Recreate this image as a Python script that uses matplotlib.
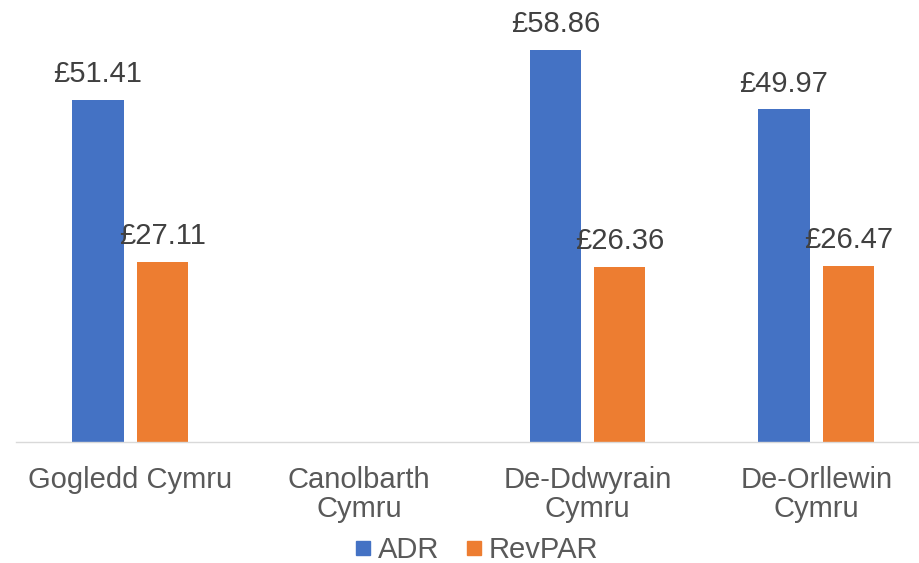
import matplotlib
matplotlib.use("Agg")
import matplotlib.pyplot as plt
from matplotlib.lines import Line2D
import numpy as np

categories = ["Gogledd Cymru", "Canolbarth\nCymru", "De-Ddwyrain\nCymru", "De-Orllewin\nCymru"]
adr = [51.41, None, 58.86, 49.97]
revpar = [27.11, None, 26.36, 26.47]
series_names = ["ADR", "RevPAR"]
colors = ["#4472C4", "#ED7D31"]

plt.rcParams['font.family'] = ['Liberation Sans', 'DejaVu Sans']

W, H = 920, 563
fig = plt.figure(figsize=(W / 100, H / 100), dpi=100)
ax = fig.add_axes([15.85 / W, (H - 442.3) / H, 914.8 / W, 442.3 / H])

bw = 0.224
off = 0.141
x = np.arange(len(categories))
for vals, sign, col in [(adr, -1, colors[0]), (revpar, 1, colors[1])]:
    for xi, v in zip(x, vals):
        if v is None:
            continue
        ax.bar(xi + sign * off, v, width=bw, color=col, zorder=2)
        ax.annotate(f"£{v:.2f}", (xi + sign * off, v), xytext=(0, 8.5),
                    textcoords="offset points", ha="center", va="bottom",
                    fontsize=21, color="#404040")

ax.set_xlim(-0.5, len(categories) - 0.5)
ax.set_ylim(0, 442.3 / 6.66)
ax.set_xticks(x)
ax.set_xticklabels(categories, fontsize=21, color="#595959", linespacing=1.04)
ax.tick_params(axis="x", length=0, pad=17)
ax.set_yticks([])
for s in ["top", "left", "right"]:
    ax.spines[s].set_visible(False)
ax.spines["bottom"].set_color("#D9D9D9")
ax.spines["bottom"].set_linewidth(1.0)
ax.spines["bottom"].set_zorder(3)

handles = [Line2D([], [], marker="s", linestyle="none", markersize=10.5,
                  markerfacecolor=c, markeredgecolor=c) for c in colors]
fig.legend(handles, series_names, loc="center", bbox_to_anchor=(477 / W, (H - 550.5) / H),
           ncol=2, frameon=False, fontsize=21, labelcolor="#595959",
           handlelength=0.5, handletextpad=0.25, columnspacing=0.95,
           borderpad=0, borderaxespad=0)

fig.savefig("out.png", dpi=100)
